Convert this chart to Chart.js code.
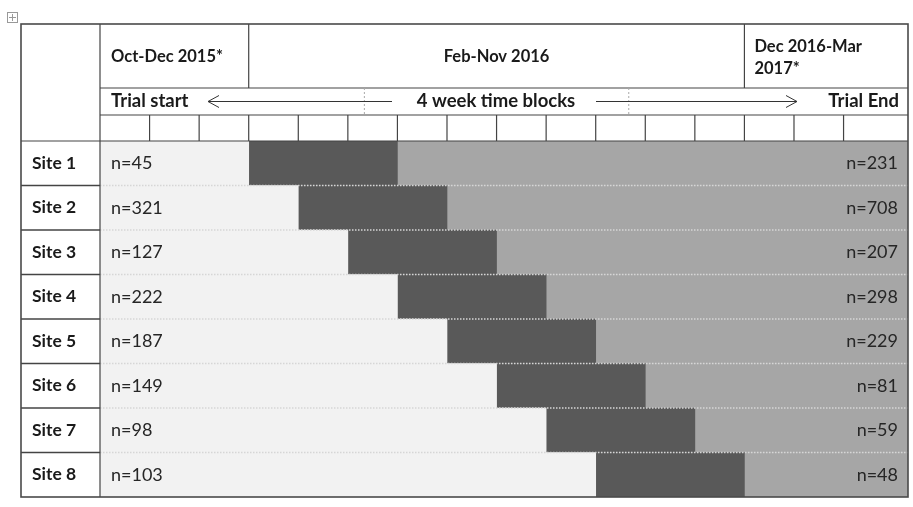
<!DOCTYPE html>
<html>
<head>
<meta charset="utf-8">
<script src="https://cdn.jsdelivr.net/npm/chart.js@4"></script>
<style>
  body { margin: 0; background: #fff; }
  #wrap { width: 913px; height: 507px; }
</style>
</head>
<body>
<div id="wrap"><canvas id="wedge"></canvas></div>
<script>
// donnees du schema (en blocs de 4 semaines)
const sites = ['Site 1', 'Site 2', 'Site 3', 'Site 4', 'Site 5', 'Site 6', 'Site 7', 'Site 8'];
const controlBlocks = [3, 4, 5, 6, 7, 8, 9, 10];
const transitionBlocks = [3, 3, 3, 3, 3, 3, 3, 3];
const interventionBlocks = [10.3, 9.3, 8.3, 7.3, 6.3, 5.3, 4.3, 3.3];
const controlN = [45, 321, 127, 222, 187, 149, 98, 103];
const interventionN = [231, 708, 207, 298, 229, 81, 59, 48];
const periods = [['Oct-Dec 2015*'], ['Feb-Nov 2016'], ['Dec 2016-Mar', '2017*']];
const periodStarts = [0, 3, 13];
const totalBlocks = 16.3;

const FONT = 'Lato, "Open Sans", sans-serif';

function line(ctx, x1, y1, x2, y2) {
    ctx.beginPath();
    ctx.moveTo(x1, y1);
    ctx.lineTo(x2, y2);
    ctx.stroke();
}

// dessine l'entete, les lignes du tableau et les textes
const tablePlugin = {
    id: 'table',
    afterDatasetsDraw(chart) {
        const ctx = chart.ctx;
        const xs = chart.scales.x, ys = chart.scales.y;
        const area = chart.chartArea;
        const L = 21, T = 24, R1 = 88, R2 = 115;
        const R = area.right, B = area.bottom, X0 = area.left;
        const step = ys.getPixelForValue(1) - ys.getPixelForValue(0);
        ctx.save();

        // separations des lignes (pointilles clairs dans la zone des barres)
        for (let i = 0; i < sites.length - 1; i++) {
            const yy = ys.getPixelForValue(i) + step / 2;
            ctx.strokeStyle = '#d6d6d6';
            ctx.lineWidth = 1.5;
            ctx.setLineDash([1.5, 1.5]);
            line(ctx, X0, yy, R, yy);
            ctx.setLineDash([]);
            ctx.strokeStyle = '#444';
            ctx.lineWidth = 1.5;
            line(ctx, L, yy, X0, yy);
        }

        // entete
        ctx.strokeStyle = '#444';
        ctx.lineWidth = 1.2;
        line(ctx, X0, R1, R, R1);
        line(ctx, X0, R2, R, R2);
        line(ctx, L, area.top, R, area.top);
        for (let b = 1; b < 16; b++) {
            const xx = xs.getPixelForValue(b);
            line(ctx, xx, R2, xx, area.top);
        }
        periodStarts.forEach(function(s) {
            if (s > 0) {
                const xx = xs.getPixelForValue(s);
                line(ctx, xx, T, xx, R1);
            }
        });
        line(ctx, X0, T, X0, B);

        // pointilles verticaux de la 2e ligne
        ctx.strokeStyle = '#aaa';
        ctx.lineWidth = 1;
        ctx.setLineDash([2, 2]);
        [16 / 3, 32 / 3].forEach(function(v) {
            const xx = xs.getPixelForValue(v);
            line(ctx, xx, R1, xx, R2);
        });
        ctx.setLineDash([]);

        // cadre exterieur
        ctx.strokeStyle = '#4a4a4a';
        ctx.lineWidth = 1.6;
        ctx.strokeRect(L, T, R - L, B - T);

        // textes de l'entete
        ctx.fillStyle = '#1a1a1a';
        ctx.textBaseline = 'middle';
        ctx.font = 'bold 16.5px ' + FONT;
        ctx.textAlign = 'left';
        ctx.fillText(periods[0][0], xs.getPixelForValue(periodStarts[0]) + 11, 57);
        ctx.textAlign = 'center';
        ctx.fillText(periods[1][0], (xs.getPixelForValue(periodStarts[1]) + xs.getPixelForValue(periodStarts[2])) / 2, 57);
        ctx.textAlign = 'left';
        ctx.fillText(periods[2][0], xs.getPixelForValue(periodStarts[2]) + 10, 47);
        ctx.fillText(periods[2][1], xs.getPixelForValue(periodStarts[2]) + 10, 69);

        const ym = (R1 + R2) / 2;
        ctx.font = 'bold 18.5px ' + FONT;
        ctx.textAlign = 'left';
        ctx.fillText('Trial start', X0 + 11, ym);
        ctx.textAlign = 'center';
        ctx.fillText('4 week time blocks', 496, ym);
        ctx.textAlign = 'right';
        ctx.fillText('Trial End', R - 9, ym);

        // fleches
        ctx.strokeStyle = '#333';
        ctx.lineWidth = 1;
        line(ctx, 208, ym, 392, ym);
        line(ctx, 219, ym - 6, 208, ym);
        line(ctx, 219, ym + 6, 208, ym);
        line(ctx, 596, ym, 797, ym);
        line(ctx, 786, ym - 6, 797, ym);
        line(ctx, 786, ym + 6, 797, ym);

        // noms des sites et effectifs
        sites.forEach(function(s, i) {
            const yy = ys.getPixelForValue(i);
            ctx.fillStyle = '#1a1a1a';
            ctx.font = 'bold 17.5px ' + FONT;
            ctx.textAlign = 'left';
            ctx.fillText(s, 32, yy);
            ctx.font = '18px ' + FONT;
            ctx.fillStyle = '#262626';
            ctx.fillText('n=' + controlN[i], X0 + 11, yy);
            ctx.textAlign = 'right';
            ctx.fillText('n=' + interventionN[i], R - 10, yy);
        });

        // petite poignee du tableau en haut a gauche
        ctx.strokeStyle = '#999';
        ctx.lineWidth = 1;
        ctx.strokeRect(7.5, 12.5, 10, 10);
        line(ctx, 12.5, 14, 12.5, 21);
        line(ctx, 9, 17.5, 16, 17.5);

        ctx.restore();
    }
};

const chart = new Chart(document.getElementById('wedge'), {
    type: 'bar',
    data: {
        labels: sites,
        datasets: [
            { label: 'Control', data: controlBlocks, backgroundColor: '#f2f2f2' },
            { label: 'Transition', data: transitionBlocks, backgroundColor: '#595959' },
            { label: 'Intervention', data: interventionBlocks, backgroundColor: '#a6a6a6' }
        ]
    },
    options: {
        indexAxis: 'y',
        responsive: true,
        maintainAspectRatio: false,
        animation: false,
        devicePixelRatio: 1,
        layout: { padding: { left: 100, right: 5, top: 141, bottom: 10 } },
        datasets: { bar: { categoryPercentage: 1, barPercentage: 1, borderWidth: 0 } },
        scales: {
            x: { type: 'linear', stacked: true, min: 0, max: totalBlocks, display: false },
            y: { stacked: true, display: false }
        },
        plugins: { legend: { display: false }, tooltip: { enabled: false } }
    },
    plugins: [tablePlugin]
});
</script>
</body>
</html>
